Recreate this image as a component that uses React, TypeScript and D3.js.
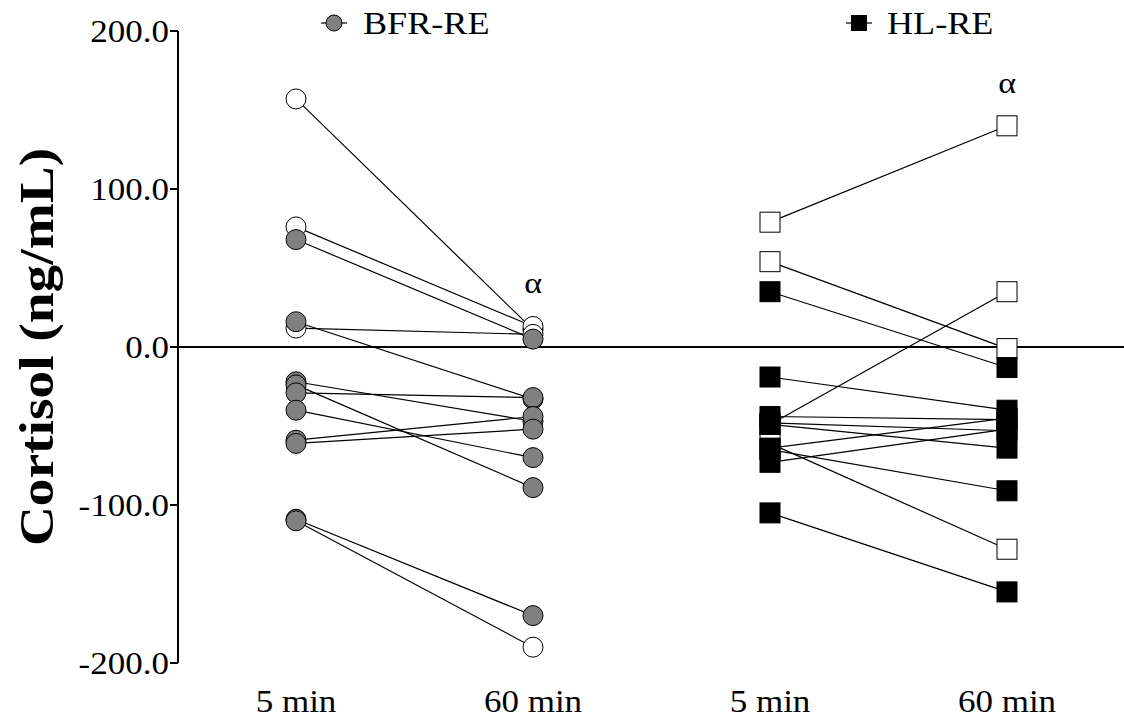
import React from "react";
import * as d3 from "d3";

// Time points along the x axis (two per group)
const timeLabels = ["5 min", "60 min", "5 min", "60 min"];
const yTicks = [200, 100, 0, -100, -200];

// BFR-RE: cortisol change per participant at 5 and 60 min
const bfrPre = [157, 76, 68, 12, 16, -22, -24, -29, -40, -59, -61, -109, -110];
const bfrPost = [11, 13, 5, 8, -33, -47, -89, -32, -70, -44, -52, -170, -190];
const bfrPreOpen = [true, true, false, true, false, false, false, false, false, false, false, false, false];
const bfrPostOpen = [true, true, false, true, false, false, false, false, false, false, false, false, true];

// HL-RE: cortisol change per participant at 5 and 60 min
const hlPre = [79, 54, 35, -19, -49, -44, -48, -49, -64, -73, -65, -61, -105];
const hlPost = [140, -1, -13, -40, 35, -46, -53, -64, -45, -52, -91, -128, -155];
const hlPreOpen = [true, true, false, false, false, false, false, false, false, false, false, true, false];
const hlPostOpen = [true, true, false, false, true, false, false, false, false, false, false, true, false];

// Significance marker (α) shown above a time point column
const alphaMarks = [false, true, false, true];

const W = 1124;
const H = 719;
const STRETCH = 1.13;
const FONT = "'Liberation Serif', 'Times New Roman', serif";

type Pt = { col: number; v: number; open: boolean; shape: "circle" | "square" };

export default function App() {
  const x = d3.scaleLinear().domain([0, 3]).range([296, 1007]);
  const y = d3.scaleLinear().domain([-200, 200]).range([663, 31]);
  const axisX = 178;

  const groups = [
    { pre: bfrPre, post: bfrPost, preOpen: bfrPreOpen, postOpen: bfrPostOpen, c0: 0, shape: "circle" as const, fill: "#808080" },
    { pre: hlPre, post: hlPost, preOpen: hlPreOpen, postOpen: hlPostOpen, c0: 2, shape: "square" as const, fill: "#000000" },
  ];

  const links: { x1: number; y1: number; x2: number; y2: number }[] = [];
  const pts: (Pt & { fill: string })[] = [];
  groups.forEach((g) => {
    g.pre.forEach((v, i) => {
      links.push({ x1: x(g.c0), y1: y(v), x2: x(g.c0 + 1), y2: y(g.post[i]) });
      pts.push({ col: g.c0, v, open: g.preOpen[i], shape: g.shape, fill: g.fill });
      pts.push({ col: g.c0 + 1, v: g.post[i], open: g.postOpen[i], shape: g.shape, fill: g.fill });
    });
  });
  // open symbols underneath, filled symbols on top
  const ordered = [...pts.filter((p) => p.open), ...pts.filter((p) => !p.open)];

  const colMax = [0, 1, 2, 3].map((c) =>
    d3.max(pts.filter((p) => p.col === c), (p) => p.v) as number
  );

  const r = 10;
  const drawPt = (p: Pt & { fill: string }, k: number) => {
    const cx = x(p.col);
    const cy = y(p.v);
    const fill = p.open ? "#ffffff" : p.fill;
    return p.shape === "circle" ? (
      <circle key={k} cx={cx} cy={cy} r={r} fill={fill} stroke="#000" strokeWidth={1} />
    ) : (
      <rect key={k} x={cx - r} y={cy - r} width={2 * r} height={2 * r} fill={fill} stroke="#000" strokeWidth={1} />
    );
  };

  const stretched = (tx: number, ty: number, anchor: string, text: string, size: number, extra: any = {}) => (
    <text
      transform={`translate(${tx},${ty}) scale(${STRETCH},1)`}
      textAnchor={anchor}
      fontFamily={FONT}
      fontSize={size}
      fill="#000"
      {...extra}
    >
      {text}
    </text>
  );

  return (
    <svg width={W} height={H} style={{ position: "absolute", left: 0, top: 0, background: "#fff" }}>
      {/* y axis */}
      <line x1={axisX} x2={axisX} y1={y(200)} y2={y(-200)} stroke="#000" strokeWidth={2} />
      {yTicks.map((t) => (
        <g key={t}>
          <line x1={axisX - 8} x2={axisX} y1={y(t)} y2={y(t)} stroke="#000" strokeWidth={2} />
          {stretched(axisX - 9, y(t) + 11, "end", t.toFixed(1), 31)}
        </g>
      ))}
      {/* zero reference line */}
      <line x1={axisX} x2={W} y1={y(0)} y2={y(0)} stroke="#000" strokeWidth={2} />

      <text
        transform={`translate(53,${y(0)}) rotate(-90) scale(${STRETCH},1)`}
        textAnchor="middle"
        fontFamily={FONT}
        fontWeight="bold"
        fontSize={49}
      >
        Cortisol (ng/mL)
      </text>

      {/* x labels */}
      {timeLabels.map((l, i) => (
        <g key={i}>{stretched(x(i), 712, "middle", l, 31)}</g>
      ))}

      {/* paired lines */}
      {links.map((l, i) => (
        <line key={i} x1={l.x1} y1={l.y1} x2={l.x2} y2={l.y2} stroke="#000" strokeWidth={1.2} />
      ))}
      {ordered.map(drawPt)}

      {/* significance markers */}
      {alphaMarks.map((a, i) =>
        a ? <g key={i}>{stretched(x(i), y(colMax[i]) - 33, "middle", "α", 30)}</g> : null
      )}

      {/* legend */}
      <line x1={321} x2={347} y1={23} y2={23} stroke="#000" strokeWidth={1.2} />
      <circle cx={334} cy={23} r={8} fill="#808080" stroke="#000" strokeWidth={1} />
      {stretched(363, 34, "start", "BFR-RE", 32)}
      <line x1={846} x2={872} y1={23} y2={23} stroke="#000" strokeWidth={1.2} />
      <rect x={851} y={15} width={16} height={16} fill="#000" />
      {stretched(887, 34, "start", "HL-RE", 32)}
    </svg>
  );
}
